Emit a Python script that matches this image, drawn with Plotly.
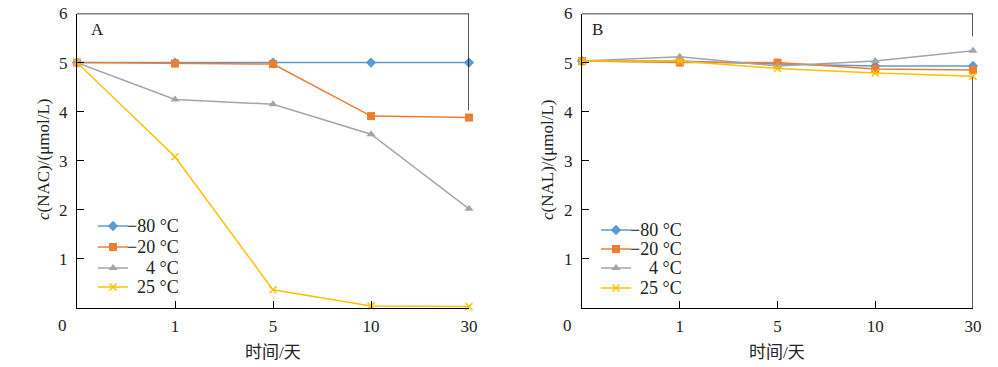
import plotly.graph_objects as go

# ---------------- data ----------------
x_labels = ["0", "1", "5", "10", "30"]
x_pos = [0, 1, 2, 3, 4]
series_names = ["\u221280 \u00b0C", "\u221220 \u00b0C", "4 \u00b0C", "25 \u00b0C"]

nac_m80 = [5.00, 5.00, 5.00, 5.00, 5.00]
nac_m20 = [5.00, 4.98, 4.97, 3.91, 3.88]
nac_p4 = [5.00, 4.25, 4.15, 3.54, 2.02]
nac_p25 = [5.00, 3.08, 0.37, 0.04, 0.03]

nal_m80 = [5.03, 5.03, 4.97, 4.93, 4.93]
nal_m20 = [5.03, 5.00, 5.00, 4.87, 4.85]
nal_p4 = [5.03, 5.12, 4.93, 5.03, 5.24]
nal_p25 = [5.03, 5.03, 4.88, 4.79, 4.72]

colors = ["#5B9BD5", "#ED7D31", "#A5A5A5", "#FFC000"]
symbols = ["diamond", "square", "triangle-up", "x-thin"]
msizes = [8, 8, 8, 7]

FONT = "Liberation Serif, 'Noto Sans CJK SC', serif"
FS = 17
W, H = 998, 367

# pixel layout
axA = (77, 469)
axB = (582, 973)
ytop, ybot = 13.5, 308

legA_rows = [226, 247, 268, 287]
legB_rows = [230, 249, 268, 288]

fig = go.Figure()

panelA = [nac_m80, nac_m20, nac_p4, nac_p25]
panelB = [nal_m80, nal_m20, nal_p4, nal_p25]

legends = {}
annotations = []

def txt(x, y, t, size=FS, angle=0, xanchor="center"):
    annotations.append(dict(xref="paper", yref="paper", x=x / W, y=(H - y) / H, text=t,
                            showarrow=False, textangle=angle, xanchor=xanchor, yanchor="middle",
                            font=dict(family=FONT, size=size, color="#222")))

k = 0
for panel, xa, ya, lx, rows, tx in [(panelA, "x", "y", 93, legA_rows, 181),
                                     (panelB, "x2", "y2", 596, legB_rows, 684)]:
    for i, ys in enumerate(panel):
        k += 1
        lname = "legend" if k == 1 else f"legend{k}"
        fig.add_trace(go.Scatter(
            x=x_pos, y=ys, name=" ", mode="lines+markers",
            line=dict(color=colors[i], width=1.5),
            marker=dict(symbol=symbols[i], size=msizes[i], color=colors[i],
                        line=dict(color=colors[i], width=1.5 if symbols[i] == "x-thin" else 0)),
            cliponaxis=False, xaxis=xa, yaxis=ya, legend=lname))
        legends[lname] = dict(x=lx / W, y=(H - rows[i]) / H, xanchor="left", yanchor="middle",
                              bgcolor="rgba(0,0,0,0)", font=dict(family=FONT, size=12),
                              itemwidth=30, borderwidth=0)
        txt(tx, rows[i], series_names[i], 18, 0, "right")

ydom = [(H - ybot) / H, (H - ytop) / H]

def xax(dom, anchor):
    return dict(domain=[dom[0] / W, dom[1] / W], range=[0, 4], anchor=anchor,
                tickmode="array", tickvals=x_pos[1:], ticktext=x_labels[1:],
                ticks="inside", ticklen=7, tickcolor="black", tickwidth=1.2,
                showline=True, linecolor="black", linewidth=1.3, mirror=False,
                showgrid=False, zeroline=False, automargin=False,
                ticklabelstandoff=2,
                tickfont=dict(family=FONT, size=FS, color="#222"))

def yax(anchor):
    return dict(domain=ydom, range=[0, 6], anchor=anchor,
                tickmode="array", tickvals=[1, 2, 3, 4, 5, 6],
                ticks="inside", ticklen=7, tickcolor="black", tickwidth=1.2,
                showline=True, linecolor="black", linewidth=1.3, mirror=False,
                showgrid=False, zeroline=False, automargin=False,
                ticklabelstandoff=5,
                tickfont=dict(family=FONT, size=FS, color="#222"))

shapes = []
def seg(xref, yref, x0, y0, x1, y1):
    shapes.append(dict(type="line", xref=xref, yref=yref, x0=x0, y0=y0, x1=x1, y1=y1,
                       line=dict(color="black", width=1.3)))

# frame pieces
seg("x", "y", 0, 6, 4, 6)
seg("x", "y", 4, 6, 4, 4.03)
seg("x2", "y2", 0, 6, 4, 6)
seg("x2", "y2", 4, 6, 4, 5.53)
seg("x2", "y2", 4, 4.70, 4, 0)

txt(63, 325, "0")
txt(567, 325, "0")
txt(97, 30, "A")
txt(597, 30, "B")
txt(43, 160, "<i>c</i>(NAC)/(\u03bcmol/L)", FS, -90)
txt(547, 160, "<i>c</i>(NAL)/(\u03bcmol/L)", FS, -90)
txt(273, 352, "\u65f6\u95f4/\u5929", FS)
txt(777, 352, "\u65f6\u95f4/\u5929", FS)

fig.update_layout(
    width=W, height=H, autosize=False,
    margin=dict(l=0, r=0, t=0, b=0),
    paper_bgcolor="white", plot_bgcolor="white",
    xaxis=xax(axA, "y"), yaxis=yax("x"),
    xaxis2=xax(axB, "y2"), yaxis2=yax("x2"),
    shapes=shapes, annotations=annotations,
    showlegend=True,
    **legends,
)

fig.write_html("out.html", config={"displayModeBar": False},
               post_script="document.body.style.margin='0';")
